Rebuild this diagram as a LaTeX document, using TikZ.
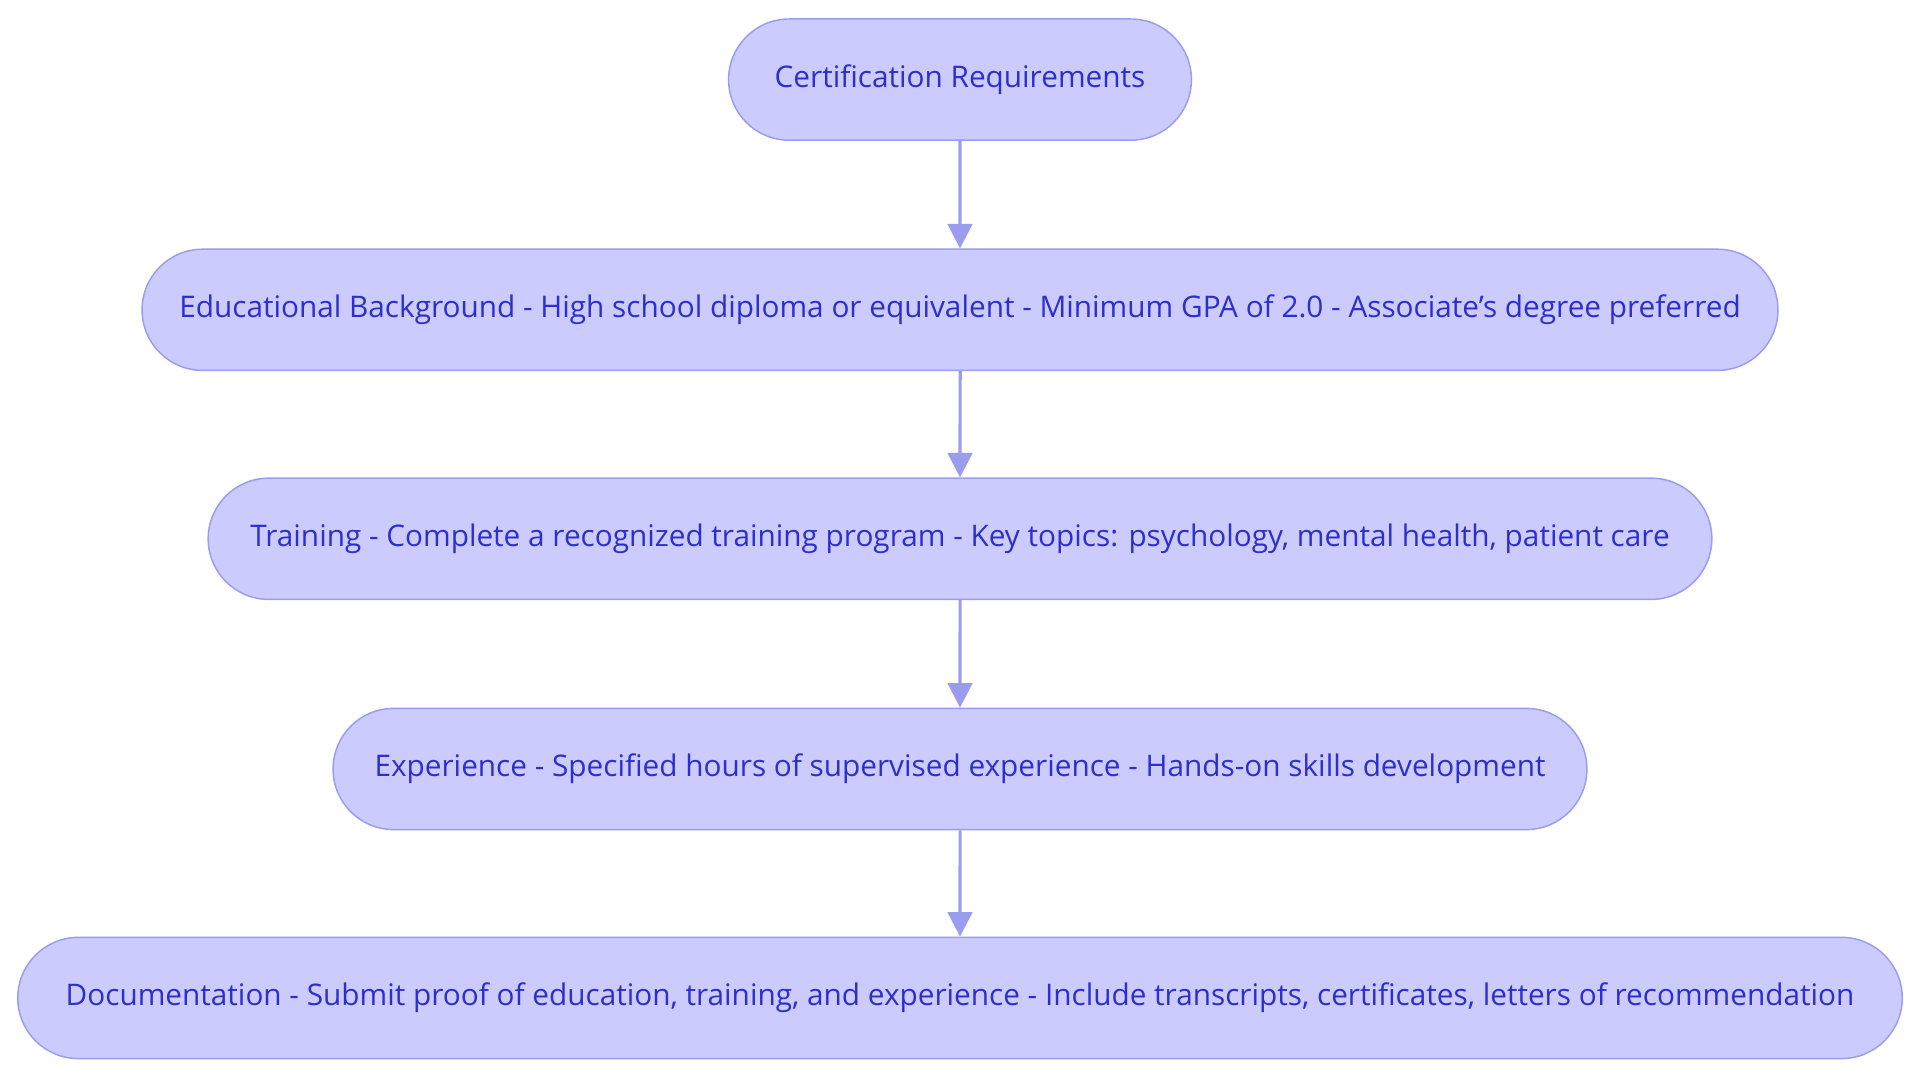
\documentclass[tikz,border=0pt]{standalone}
\usepackage{fontspec}
\setmainfont{Open Sans}
\usetikzlibrary{arrows.meta,shapes.misc}
\definecolor{bfill}{HTML}{CBCBFD}
\definecolor{bdraw}{HTML}{9C9CEE}
\definecolor{btext}{HTML}{2E2ECC}
\tikzset{
  pill/.style={rounded rectangle, draw=bdraw, fill=bfill, line width=1.2pt, text=btext,
    minimum height=99pt, inner xsep=0pt, font=\fontsize{24.3}{28}\selectfont},
  conn/.style={draw=bdraw, line width=2.6pt, -{Triangle[length=20pt,width=20pt]}}
}
\begin{document}
\begin{tikzpicture}[x=1pt,y=-1pt]
\useasboundingbox (0,0) rectangle (1568,884);
\node[pill, minimum width=378pt] (a) at (784,65) {Certification Requirements};
\node[pill, minimum width=1336pt] (b) at (784,253) {Educational Background - High school diploma or equivalent - Minimum GPA of 2.0 - Associate’s degree preferred};
\node[pill, minimum width=1228pt] (c) at (784,440) {Training - Complete a recognized training program - Key topics: psychology, mental health, patient care};
\node[pill, minimum width=1024pt] (d) at (784,628) {Experience - Specified hours of supervised experience - Hands-on skills development};
\node[pill, minimum width=1539pt] (e) at (784,815) {Documentation - Submit proof of education, training, and experience - Include transcripts, certificates, letters of recommendation};
\draw[conn] (a) -- (b);
\draw[conn] (b) -- (c);
\draw[conn] (c) -- (d);
\draw[conn] (d) -- (e);
\end{tikzpicture}
\end{document}
